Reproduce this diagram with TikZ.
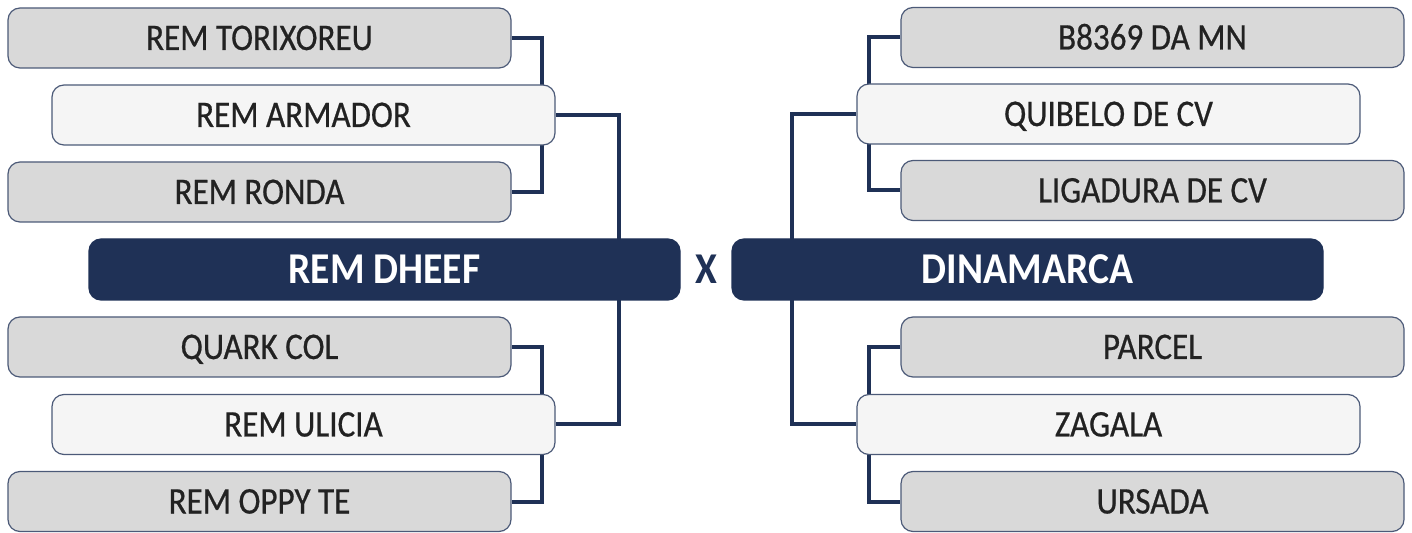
\documentclass[tikz,border=0pt]{standalone}
\usepackage{fontspec}
\setmainfont{Carlito}[FakeStretch=0.9]
\newfontfamily\teamfont{Carlito}[FakeStretch=0.88, FakeBold=0.6]
\usetikzlibrary{positioning, backgrounds}
\definecolor{navy}{HTML}{1F3156}
\definecolor{boxgrey}{HTML}{D9D9D9}
\definecolor{boxlight}{HTML}{F5F5F5}
\definecolor{inkdark}{HTML}{222222}

\tikzset{
  teambox/.style={draw=navy!80, line width=0.6pt, rounded corners=6pt,
    fill=boxgrey, minimum width=251.5pt, minimum height=30pt, inner sep=0pt,
    text=inkdark, font=\teamfont\fontsize{18.8}{20}\selectfont,
    text height=12pt, text depth=0pt},
  seedbox/.style={teambox, fill=boxlight},
  finalbox/.style={draw=navy, fill=navy, rounded corners=6pt, line width=0.6pt,
    minimum width=295.5pt, minimum height=30.5pt, inner sep=0pt, text=white,
    font=\bfseries\fontsize{22}{24}\selectfont, text height=14pt, text depth=0pt},
  link/.style={draw=navy, line width=2pt}
}

\begin{document}
\begin{tikzpicture}[x=0.5pt, y=-0.5pt]
  \useasboundingbox (0,0) rectangle (1412,533);

  % left half
  \node[teambox] (tor) at (259.5,38)  {REM TORIXOREU};
  \node[seedbox] (arm) at (303.5,115) {REM ARMADOR};
  \node[teambox] (ron) at (259.5,192) {REM RONDA};
  \node[finalbox] (dhe) at (384.5,269.5) {REM DHEEF};
  \node[teambox] (qua) at (259.5,347) {QUARK COL};
  \node[seedbox] (uli) at (303.5,424.5) {REM ULICIA};
  \node[teambox] (opp) at (259.5,501.5) {REM OPPY TE};

  % right half
  \node[teambox] (b83) at (1152.5,37.5) {B8369 DA MN};
  \node[seedbox] (qui) at (1108.5,114) {QUIBELO DE CV};
  \node[teambox] (lig) at (1152.5,190.5) {LIGADURA DE CV};
  \node[finalbox] (din) at (1027.5,269.5) {DINAMARCA};
  \node[teambox] (par) at (1152.5,347) {PARCEL};
  \node[seedbox] (zag) at (1108.5,424.5) {ZAGALA};
  \node[teambox] (urs) at (1152.5,501.5) {URSADA};

  \node[text=navy, font=\bfseries\fontsize{22}{24}\selectfont, text height=14pt,
    text depth=0pt, inner sep=0pt] (vs) at (706,270) {X};

  \begin{scope}[on background layer]
    \draw[link] (tor.east) -- ++(30,0) |- (ron.east);
    \draw[link] (qua.east) -- ++(30,0) |- (opp.east);
    \draw[link] (arm.east) -- ++(63,0) |- (uli.east);
    \draw[link] (b83.west) -- ++(-31,0) |- (lig.west);
    \draw[link] (par.west) -- ++(-31,0) |- (urs.west);
    \draw[link] (qui.west) -- ++(-64,0) |- (zag.west);
  \end{scope}
\end{tikzpicture}
\end{document}
